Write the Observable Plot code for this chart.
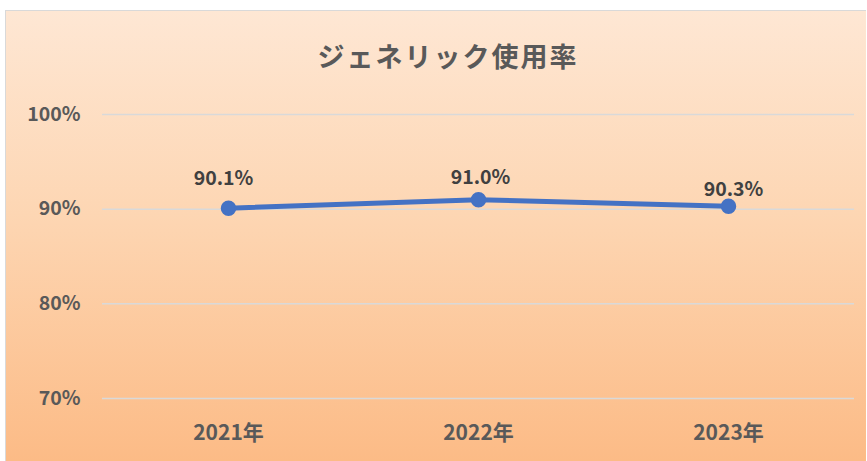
<!DOCTYPE html>
<html><head><meta charset="utf-8">
<script src="https://cdn.jsdelivr.net/npm/d3@7"></script>
<script src="https://cdn.jsdelivr.net/npm/@observablehq/plot@0.6"></script>
<style>
html,body{margin:0;padding:0;background:#fff;}
#card{position:absolute;left:5px;top:10px;width:860px;height:450px;border:1px solid #d9d9d9;border-right:none;border-bottom:none;
background:linear-gradient(to bottom,#fee7d4 0%,#fdd6b3 45%,#fcbb86 100%);overflow:hidden;
font-family:"Noto Sans CJK JP","Noto Sans",sans-serif;}
#title{height:80px;line-height:90px;text-align:center;font-size:27px;font-weight:bold;color:#595959;letter-spacing:2px;padding-left:24px;}
</style></head>
<body>
<div id="card"><div id="title">ジェネリック使用率</div><div id="chart"></div></div>
<script>
const years = ["2021年","2022年","2023年"];
const rates = [90.1, 91.0, 90.3];
const yTicks = [70, 80, 90, 100];
const data = years.map((y,i)=>({year:y, rate:rates[i]}));
const labelOffsets = [[-5,-29],[2,-22],[5,-17]];
const label = (i) => Plot.text([data[i]], {x:"year", y:"rate", text:d=>d.rate.toFixed(1)+"%", dx:labelOffsets[i][0], dy:labelOffsets[i][1], fill:"#404040", fontSize:19.5, fontWeight:"bold"});
const plot = Plot.plot({
  width: 860, height: 370,
  marginLeft: 96, marginRight: 12, marginTop: 23, marginBottom: 63,
  style:{background:"transparent", fontFamily:'"Noto Sans CJK JP","Noto Sans",sans-serif', fontSize:"18px", fontWeight:"bold", color:"#595959"},
  x:{type:"point", domain:years, padding:0.5, label:null},
  y:{domain:[70,100], ticks:yTicks, label:null},
  marks:[
    Plot.gridY(yTicks, {stroke:"#d9d9d9", strokeOpacity:1, strokeWidth:1.5}),
    Plot.axisY(yTicks, {tickSize:0, tickPadding:22, tickFormat:d=>d+"%", fill:"#595959", fontSize:19.5, fontWeight:"bold"}),
    Plot.axisX(years, {tickSize:0, tickPadding:27, fill:"#595959", fontSize:21, fontWeight:"bold"}),
    Plot.line(data, {x:"year", y:"rate", stroke:"#4472c4", strokeWidth:5}),
    Plot.dot(data, {x:"year", y:"rate", r:7, fill:"#4472c4", stroke:"#4472c4"}),
    label(0), label(1), label(2)
  ]
});
document.getElementById("chart").appendChild(plot);
</script>
</body></html>
